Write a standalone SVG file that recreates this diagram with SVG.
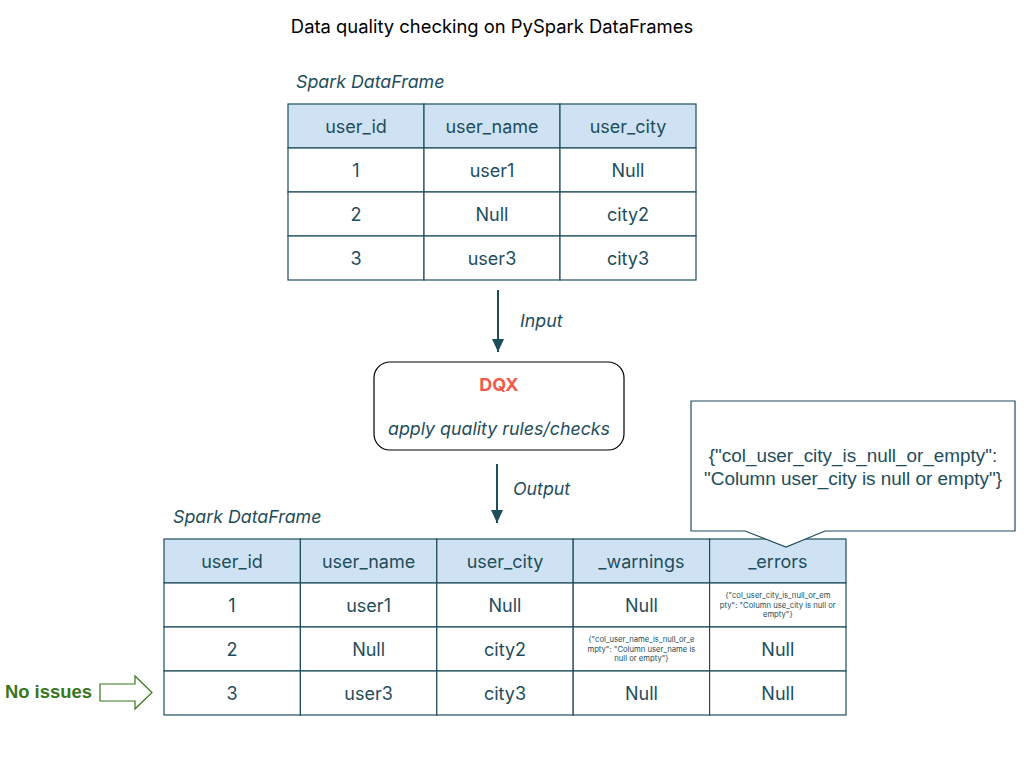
<svg xmlns="http://www.w3.org/2000/svg" width="1024" height="768" viewBox="0 0 1024 768">
<defs>
<style>
.t{font-family:Inter,"Noto Sans",sans-serif;fill:#1e4d5c;font-size:18px;text-anchor:middle}
.i{font-family:Inter,"Noto Sans",sans-serif;fill:#1e4d5c;font-size:17.8px;font-style:italic}
.s{font-family:Inter,"Noto Sans",sans-serif;fill:#1e4d5c;font-size:7.7px;text-anchor:middle}
.hd{fill:#cfe2f3;stroke:#1e4d5c;stroke-width:1.2}
.cl{fill:#ffffff;stroke:#1e4d5c;stroke-width:1.2}
.ln{stroke:#1e4d5c;stroke-width:2;fill:none}
</style>
</defs>
<rect width="1024" height="768" fill="#ffffff"/>
<text x="492" y="33" font-family="Inter,'Noto Sans',sans-serif" font-size="18.4" text-anchor="middle" fill="#000">Data quality checking on PySpark DataFrames</text>

<g id="input-table">
<text class="i" x="296" y="88">Spark DataFrame</text>
<rect class="hd" x="288" y="104" width="136" height="44"/>
<rect class="hd" x="424" y="104" width="136" height="44"/>
<rect class="hd" x="560" y="104" width="136" height="44"/>
<rect class="cl" x="288" y="148" width="136" height="44"/>
<rect class="cl" x="424" y="148" width="136" height="44"/>
<rect class="cl" x="560" y="148" width="136" height="44"/>
<rect class="cl" x="288" y="192" width="136" height="44"/>
<rect class="cl" x="424" y="192" width="136" height="44"/>
<rect class="cl" x="560" y="192" width="136" height="44"/>
<rect class="cl" x="288" y="236" width="136" height="44"/>
<rect class="cl" x="424" y="236" width="136" height="44"/>
<rect class="cl" x="560" y="236" width="136" height="44"/>
<text class="t" x="356" y="133">user_id</text>
<text class="t" x="492" y="133">user_name</text>
<text class="t" x="628" y="133">user_city</text>
<text class="t" x="356" y="177">1</text>
<text class="t" x="492" y="177">user1</text>
<text class="t" x="628" y="177">Null</text>
<text class="t" x="356" y="221">2</text>
<text class="t" x="492" y="221">Null</text>
<text class="t" x="628" y="221">city2</text>
<text class="t" x="356" y="265">3</text>
<text class="t" x="492" y="265">user3</text>
<text class="t" x="628" y="265">city3</text>
</g>

<g id="dqx">
<rect x="374" y="362" width="250" height="88" rx="16" fill="#ffffff" stroke="#000" stroke-width="1.2"/>
<text x="499" y="391" font-family="Inter,'Noto Sans',sans-serif" font-size="18" font-weight="bold" fill="#f15a4a" text-anchor="middle">DQX</text>
<text class="i" x="499" y="435" text-anchor="middle">apply quality rules/checks</text>
</g>

<g id="connectors">
<line class="ln" x1="498" y1="290" x2="498" y2="352"/>
<path d="M492,339 L504,339 L498,352 Z" fill="#1e4d5c"/>
<line class="ln" x1="497" y1="464" x2="497" y2="523"/>
<path d="M491,510 L503,510 L497,523 Z" fill="#1e4d5c"/>
<text class="i" x="520" y="327">Input</text>
<text class="i" x="513" y="495">Output</text>
</g>

<g id="output-table">
<text class="i" x="173" y="523">Spark DataFrame</text>
<rect class="hd" x="164" y="539" width="136.4" height="44"/>
<rect class="hd" x="300.4" y="539" width="136.4" height="44"/>
<rect class="hd" x="436.8" y="539" width="136.4" height="44"/>
<rect class="hd" x="573.2" y="539" width="136.4" height="44"/>
<rect class="hd" x="709.6" y="539" width="136.4" height="44"/>
<g>
<rect class="cl" x="164" y="583" width="136.4" height="44"/>
<rect class="cl" x="300.4" y="583" width="136.4" height="44"/>
<rect class="cl" x="436.8" y="583" width="136.4" height="44"/>
<rect class="cl" x="573.2" y="583" width="136.4" height="44"/>
<rect class="cl" x="709.6" y="583" width="136.4" height="44"/>
<rect class="cl" x="164" y="627" width="136.4" height="44"/>
<rect class="cl" x="300.4" y="627" width="136.4" height="44"/>
<rect class="cl" x="436.8" y="627" width="136.4" height="44"/>
<rect class="cl" x="573.2" y="627" width="136.4" height="44"/>
<rect class="cl" x="709.6" y="627" width="136.4" height="44"/>
<rect class="cl" x="164" y="671" width="136.4" height="44"/>
<rect class="cl" x="300.4" y="671" width="136.4" height="44"/>
<rect class="cl" x="436.8" y="671" width="136.4" height="44"/>
<rect class="cl" x="573.2" y="671" width="136.4" height="44"/>
<rect class="cl" x="709.6" y="671" width="136.4" height="44"/>
</g>
<text class="t" x="232" y="568">user_id</text>
<text class="t" x="368.6" y="568">user_name</text>
<text class="t" x="505" y="568">user_city</text>
<text class="t" x="641.4" y="568">_warnings</text>
<text class="t" x="777.8" y="568">_errors</text>
<text class="t" x="232" y="612">1</text>
<text class="t" x="368.6" y="612">user1</text>
<text class="t" x="505" y="612">Null</text>
<text class="t" x="641.4" y="612">Null</text>
<text class="s" x="777.8" y="598">{"col_user_city_is_null_or_em</text>
<text class="s" x="777.8" y="607.5">pty": "Column use_city is null or</text>
<text class="s" x="777.8" y="617">empty"}</text>
<text class="t" x="232" y="656">2</text>
<text class="t" x="368.6" y="656">Null</text>
<text class="t" x="505" y="656">city2</text>
<text class="s" x="641.4" y="642">{"col_user_name_is_null_or_e</text>
<text class="s" x="641.4" y="651.5">mpty": "Column user_name is</text>
<text class="s" x="641.4" y="661">null or empty"}</text>
<text class="t" x="777.8" y="656">Null</text>
<text class="t" x="232" y="700">3</text>
<text class="t" x="368.6" y="700">user3</text>
<text class="t" x="505" y="700">city3</text>
<text class="t" x="641.4" y="700">Null</text>
<text class="t" x="777.8" y="700">Null</text>
</g>

<g id="callout">
<path d="M691,401 L1015,401 L1015,531 L825,531 L786,547 L745,531 L691,531 Z" fill="#ffffff" stroke="#1e4d5c" stroke-width="1.2"/>
<text x="853" y="462" font-family="'Liberation Sans',Arial,sans-serif" font-size="18.9" fill="#1e4d5c" text-anchor="middle">{"col_user_city_is_null_or_empty":</text>
<text x="853" y="485" font-family="'Liberation Sans',Arial,sans-serif" font-size="18.9" fill="#1e4d5c" text-anchor="middle">"Column user_city is null or empty"}</text>
</g>

<g id="no-issues">
<text x="5" y="698" font-family="'Liberation Sans',Arial,sans-serif" font-size="18.4" font-weight="bold" fill="#38761d">No issues</text>
<path d="M100,684 L135,684 L135,676 L152,692.5 L135,709 L135,701 L100,701 Z" fill="#ffffff" stroke="#38761d" stroke-width="1.2"/>
</g>
</svg>
